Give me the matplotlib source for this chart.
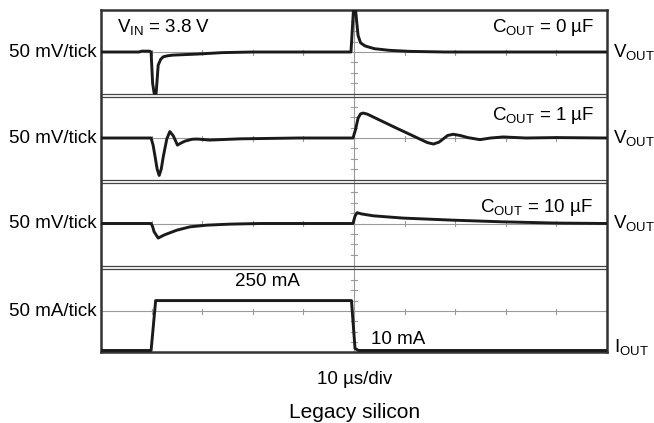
import numpy as np
import matplotlib
matplotlib.use('Agg')
import matplotlib.pyplot as plt

plt.rcParams.update({
    'font.family': 'Liberation Sans',
    'mathtext.fontset': 'custom',
    'mathtext.rm': 'Liberation Sans',
    'mathtext.it': 'Liberation Sans',
    'font.size': 13.5,
})

# ── Traces (time in µs, 10 µs/div) ─────────────────────────────────────────────
# C_OUT = 0 µF, V_OUT deviation [mV]
t_c0 = [0, 7.5, 8.0, 9.6, 9.9, 10.2, 10.5, 10.9, 11.3, 11.8, 12.3, 13.2, 14.2,
        19.0, 24.0, 30.0, 49.4, 49.9, 50.3, 50.8, 51.3, 52.2, 54.0, 57.0,
        61.0, 68.0, 100]
v_c0 = [0, 0, 4, 4, 0, -150, -198, -198, -63, -35, -23, -18, -15,
        -10, -3, 0, 0, 205, 205, 80, 44, 29, 16, 8,
        3, 0, 0]

# C_OUT = 1 µF
t_c1 = [0, 9.9, 10.3, 10.7, 11.1, 11.5, 11.9, 12.3, 13.0, 13.6, 14.3, 15.1,
        16.0, 16.6, 18.0, 19.0, 21.5, 27.5, 39.0, 49.8, 50.3, 50.8, 51.3,
        51.8, 52.6, 58.0, 64.5, 65.7, 66.8, 68.5, 69.6, 71.0, 72.5, 74.9,
        77.0, 79.5, 84.0, 90.0, 100]
v_c1 = [0, 0, -35, -91, -150, -180, -150, -91, -5, 31, 10, -34,
        -22, -15, -6, -5, -10, -4, 0, 0, 40, 95, 116,
        120, 115, 52, -22, -29, -20, 12, 18, 12, 2, -8,
        0, 5, 0, 2, 0]

# C_OUT = 10 µF
t_c10 = [0, 9.9, 10.2, 10.5, 11.3, 12.5, 15.0, 17.6, 20.9, 25.5, 31.4,
         49.8, 50.2, 50.6, 51.5, 53.8, 59.7, 69.6, 79.4, 90.1, 100]
v_c10 = [0, 0, -15, -40, -70, -55, -32, -16, -8, -3, 0,
         0, 35, 52, 46, 37, 26, 16, 8, 2, 0]

# Load current [mA]
t_iout = [0, 9.9, 10.8, 49.5, 50.2, 50.9, 100]
i_iout = [10, 10, 250, 250, 20, 10, 10]

# ── Screen geometry (vertical units = pixels from bottom of the frame) ──────────
PX_TICK = 10.4            # one vertical tick (50 mV or 50 mA)
TOP = 342
base = [300, 214, 128.5, 41]          # graticule centre line of each panel
seps = [(258.5, 255.5), (172, 169.3), (86, 83)]
I_ZERO_Y = 1.5                          # where 10 mA sits

def v2y(v, b):
    return b + np.asarray(v) / 50.0 * PX_TICK

fig = plt.figure(figsize=(6.54, 4.23), dpi=100)
ax = fig.add_axes([101 / 654, 71 / 423, 506 / 654, 342 / 423])
ax.set_xlim(0, 100)
ax.set_ylim(0, TOP)
ax.set_xticks([])
ax.set_yticks([])
for s in ax.spines.values():
    s.set_linewidth(1.8)
    s.set_color('#333333')

grid_c = '#9a9a9a'
# horizontal graticule lines with division ticks
for b in base:
    ax.axhline(b, color=grid_c, lw=0.8, zorder=1)
    for d in range(10, 100, 10):
        ax.plot([d, d], [b - 2.5, b + 2.5], color=grid_c, lw=0.8, zorder=1)
# centre vertical line with vertical ticks
ax.axvline(50, color=grid_c, lw=0.8, zorder=1)
for b in base:
    for k in (-3, -2, -1, 1, 2, 3):
        y = b + k * PX_TICK
        ax.plot([49.4, 50.6], [y, y], color=grid_c, lw=0.8, zorder=1)
# double separators between channels
for a, c in seps:
    ax.axhline(a, color='#444444', lw=0.9, zorder=2)
    ax.axhline(c, color='#444444', lw=0.9, zorder=2)

tr = dict(color='#1a1a1a', lw=2.1, zorder=3, solid_joinstyle='round')
ax.plot(t_c0, v2y(v_c0, base[0]), **tr)
ax.plot(t_c1, v2y(v_c1, base[1]), **tr)
ax.plot(t_c10, v2y(v_c10, base[2]), **tr)
ax.plot(t_iout, I_ZERO_Y + (np.asarray(i_iout) - 10) / 50.0 * PX_TICK, **tr)

# ── Labels ─────────────────────────────────────────────────────────────────────
left_labels = ['50 mV/tick', '50 mV/tick', '50 mV/tick', '50 mA/tick']
for b, lab in zip(base, left_labels):
    ax.text(-0.8, b - 4.7, lab, ha='right', va='baseline', clip_on=False)
for b in base[:3]:
    ax.text(101.2, b - 4.7, r'$\mathregular{V_{OUT}}$', ha='left',
            va='baseline', clip_on=False)
ax.text(101.4, 0.3, r'$\mathregular{I_{OUT}}$', ha='left', va='baseline',
        clip_on=False)

ax.text(3.1, 319.7, r'$\mathregular{V_{IN}}$ = 3.8 V', ha='left', va='baseline')
ax.text(97.6, 320, r'$\mathregular{C_{OUT}}$ = 0 µF', ha='right', va='baseline')
ax.text(97.6, 232, r'$\mathregular{C_{OUT}}$ = 1 µF', ha='right', va='baseline')
ax.text(97.2, 140.3, r'$\mathregular{C_{OUT}}$ = 10 µF', ha='right', va='baseline')
ax.text(32.9, 66, '250 mA', ha='center', va='baseline')
ax.text(53.4, 8, '10 mA', ha='left', va='baseline')

ax.text(50.2, -32.3, '10 µs/div', ha='center', va='baseline', clip_on=False)
ax.text(50.2, -66.3, 'Legacy silicon', ha='center', va='baseline',
        fontsize=15, clip_on=False)

fig.savefig('out.png', dpi=100)
